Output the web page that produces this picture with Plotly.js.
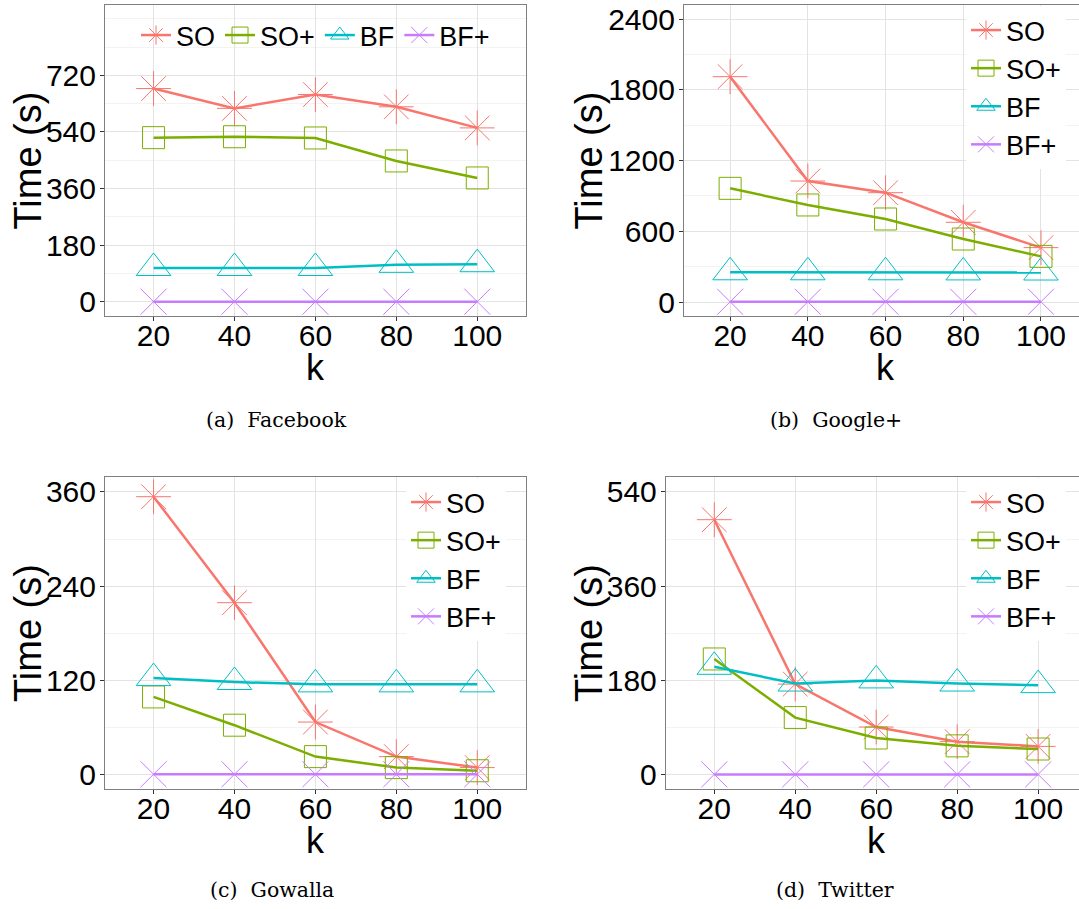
<!DOCTYPE html>
<html>
<head>
<meta charset="utf-8">
<script src="https://cdn.plot.ly/plotly-3.0.1.min.js"></script>
<style>html,body{margin:0;padding:0;background:#fff;}#chart{width:1079px;height:909px;}</style>
</head>
<body>
<div id="chart"></div>
<script>
// ---- data ----
const kValues = [20, 40, 60, 80, 100];
const seriesNames = ['SO', 'SO+', 'BF', 'BF+'];

// (a) Facebook
const fbSO     = [678, 615, 659, 620, 553];
const fbSOplus = [522, 525, 521, 448, 394];
const fbBF     = [108, 108, 108, 118, 120];
const fbBFplus = [1, 1, 1, 1, 1];

// (b) Google+
const gpSO     = [1911, 1026, 927, 676, 461];
const gpSOplus = [964, 823, 704, 534, 387];
const gpBF     = [252, 252, 252, 251, 250];
const gpBFplus = [2, 2, 2, 2, 2];

// (c) Gowalla
const gwSO     = [354, 219, 67, 23, 9];
const gwSOplus = [99, 63, 23, 9, 5];
const gwBF     = [123, 118, 115, 115, 115];
const gwBFplus = [0.5, 0.5, 0.5, 0.5, 0.5];

// (d) Twitter
const twSO     = [487, 173, 91, 63, 54];
const twSOplus = [221, 109, 70, 55, 49];
const twBF     = [206, 174, 180, 174, 171];
const twBFplus = [0.5, 0.5, 0.5, 0.5, 0.5];

const yTicksFB = [0, 180, 360, 540, 720];
const yTicksGP = [0, 600, 1200, 1800, 2400];
const yTicksGW = [0, 120, 240, 360];
const yTicksTW = [0, 180, 360, 540];
const captions = ['(a)\u00a0 Facebook', '(b)\u00a0 Google+', '(c)\u00a0 Gowalla', '(d)\u00a0 Twitter'];

// ---- styling ----
const W = 1079, H = 909;
const colors = ['#F8766D', '#7CAE00', '#00BFC4', '#C77CFF'];
const symbols = ['asterisk-open', 'square-open', 'triangle-up-open', 'x-thin-open'];
const sizes = [29, 22, 30, 26];
const sansFont = 'Liberation Sans, Arial, Helvetica, sans-serif';

const panels = [
  {series: [fbSO, fbSOplus, fbBF, fbBFplus], xr: [105.0, 525.8], yr: [5, 316], xrange: [8, 112],
   yrange: [-44.5, 943.4], ticks: yTicksFB, minor: 90, mirrorY: true, legend: 'legend'},
  {series: [gpSO, gpSOplus, gpBF, gpBFplus], xr: [683.9, 1079], yr: [5, 316], xrange: [8.11, 109.78],
   yrange: [-118.7, 2518.7], ticks: yTicksGP, minor: 300, mirrorY: false, legend: 'legend2'},
  {series: [gwSO, gwSOplus, gwBF, gwBFplus], xr: [105.0, 525.8], yr: [477.3, 789], xrange: [8, 112],
   yrange: [-18.25, 378.7], ticks: yTicksGW, minor: 60, mirrorY: true, legend: 'legend3'},
  {series: [twSO, twSOplus, twBF, twBFplus], xr: [665.8, 1079], yr: [477.3, 789], xrange: [8.02, 110.1],
   yrange: [-27.4, 568], ticks: yTicksTW, minor: 90, mirrorY: false, legend: 'legend4'}
];

const traces = [];
const layout = {
  width: W, height: H,
  margin: {l: 0, r: 0, t: 0, b: 0},
  paper_bgcolor: '#ffffff', plot_bgcolor: '#ffffff',
  font: {family: sansFont, color: '#000'},
  annotations: [], showlegend: true
};

panels.forEach((p, i) => {
  const n = i === 0 ? '' : String(i + 1);
  const xa = 'x' + n, ya = 'y' + n;
  p.series.forEach((vals, s) => {
    traces.push({
      type: 'scatter', mode: 'lines+markers',
      x: kValues, y: vals, name: seriesNames[s],
      xaxis: xa, yaxis: ya, legend: p.legend,
      line: {color: colors[s], width: 2.5},
      marker: {symbol: symbols[s], size: sizes[s], color: colors[s],
               line: {color: colors[s], width: 1}},
      cliponaxis: false
    });
  });
  const axCommon = {
    showline: true, linecolor: '#7F7F7F', linewidth: 1,
    ticks: 'outside', ticklen: 4, tickwidth: 1, tickcolor: '#333333',
    tickfont: {family: sansFont, size: 30, color: '#000'},
    gridcolor: '#E3E3E3', gridwidth: 1, zeroline: false, fixedrange: true
  };
  layout['xaxis' + n] = Object.assign({}, axCommon, {
    domain: [p.xr[0] / W, p.xr[1] / W], anchor: ya, range: p.xrange,
    tickmode: 'array', tickvals: kValues, mirror: true, ticklabelstandoff: -11
  });
  layout['yaxis' + n] = Object.assign({}, axCommon, {
    domain: [1 - p.yr[1] / H, 1 - p.yr[0] / H], anchor: xa, range: p.yrange,
    tickmode: 'array', tickvals: p.ticks, mirror: p.mirrorY, ticklabelstandoff: -2,
    minor: {tickmode: 'linear', tick0: 0, dtick: p.minor, showgrid: true, gridcolor: '#F3F3F3', ticks: ''}
  });
});

// legends
const legFont = {family: sansFont, size: 27, color: '#000'};
layout.legend  = {orientation: 'h', x: 136 / W, y: 1 - 11 / H, xanchor: 'left', yanchor: 'top',
                  bgcolor: 'rgba(255,255,255,0)', font: legFont, itemwidth: 30, tracegroupgap: 0};
layout.legend2 = {x: 966 / W, y: 1 - 6 / H, xanchor: 'left', yanchor: 'top', bgcolor: '#ffffff', font: legFont, itemwidth: 30};
layout.legend3 = {x: 406 / W, y: 1 - 478 / H, xanchor: 'left', yanchor: 'top', bgcolor: '#ffffff', font: legFont, itemwidth: 30};
layout.legend4 = {x: 966 / W, y: 1 - 478 / H, xanchor: 'left', yanchor: 'top', bgcolor: '#ffffff', font: legFont, itemwidth: 30};

// axis titles and captions
const yTitleX = [28, 589, 28, 589];
const yTitleY = [160.5, 160.5, 633, 633];
const xTitleX = [315.4, 885.7, 315.4, 876];
const xTitleY = [368, 368, 840, 840];
const capX = [276, 836, 272, 835];
const capY = [420, 420, 890, 890];
for (let i = 0; i < 4; i++) {
  layout.annotations.push({text: 'Time (s)', textangle: -90, xref: 'paper', yref: 'paper',
    x: yTitleX[i] / W, y: 1 - yTitleY[i] / H, xanchor: 'center', yanchor: 'middle', showarrow: false,
    font: {family: sansFont, size: 38, color: '#000'}});
  layout.annotations.push({text: 'k', xref: 'paper', yref: 'paper',
    x: xTitleX[i] / W, y: 1 - xTitleY[i] / H, xanchor: 'center', yanchor: 'middle', showarrow: false,
    font: {family: sansFont, size: 36, color: '#000'}});
  layout.annotations.push({text: captions[i], xref: 'paper', yref: 'paper',
    x: capX[i] / W, y: 1 - capY[i] / H, xanchor: 'center', yanchor: 'middle', showarrow: false,
    font: {family: 'DejaVu Serif, Liberation Serif, serif', size: 20.5, color: '#000'}});
}

Plotly.newPlot('chart', traces, layout, {staticPlot: true, displayModeBar: false});
</script>
</body>
</html>
